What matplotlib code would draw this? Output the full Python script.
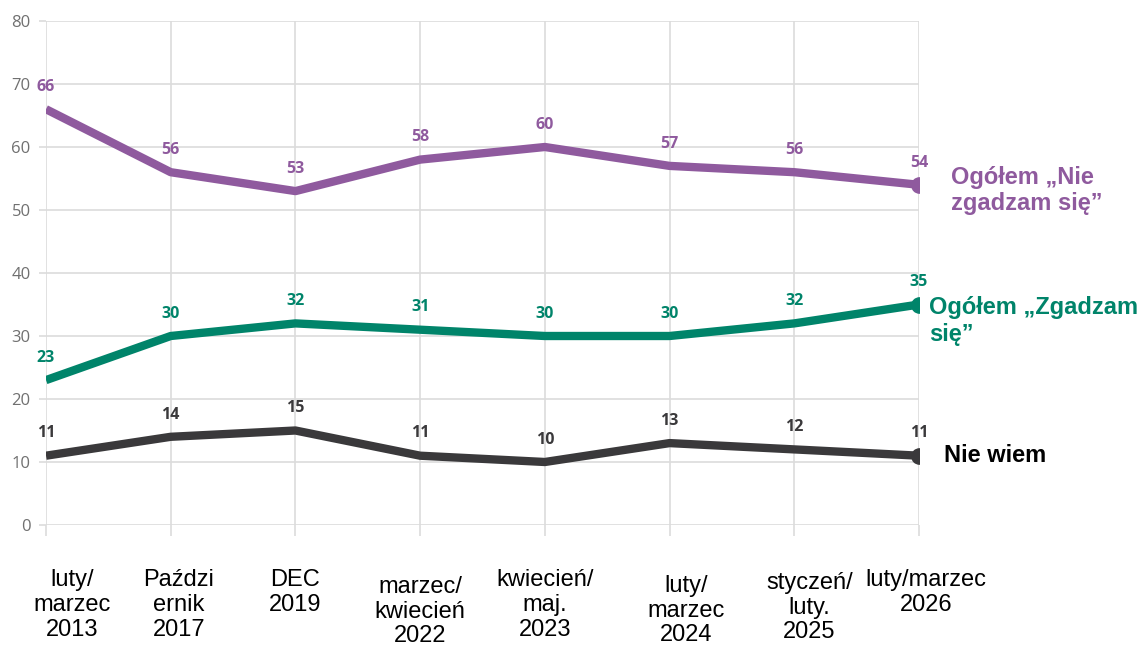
import matplotlib
matplotlib.use("Agg")
import matplotlib.pyplot as plt

# data
periods = ["luty/\nmarzec\n2013", "Paździ\nernik\n2017", "DEC\n2019",
           "marzec/\nkwiecień\n2022", "kwiecień/\nmaj.\n2023", "luty/\nmarzec\n2024",
           "styczeń/\nluty.\n2025", "luty/marzec\n2026"]
disagree = [66, 56, 53, 58, 60, 57, 56, 54]
agree = [23, 30, 32, 31, 30, 30, 32, 35]
dont_know = [11, 14, 15, 11, 10, 13, 12, 11]

# small nudges of the category labels (points), as placed in the original slide
label_dx = [19, 6, 0, 0, 0, 12, 11, 5]
label_dy = [0, 0, 0, -5, 0, -4, -2, 0]

series = [
    (disagree, "#8f5a9e", "Ogółem „Nie\nzgadzam się”", 23, -4),
    (agree, "#00846a", "Ogółem „Zgadzam\nsię”", 7, -12),
    (dont_know, "#3a393b", "Nie wiem", 18, 0),
]

fig = plt.figure(figsize=(11.43, 6.5), dpi=100)
ax = fig.add_axes([46 / 1143, 125 / 650, 873 / 1143, 504 / 650])

x = list(range(len(periods)))
for values, color, name, dx, dy in series:
    ax.plot(x, values, color=color, lw=6, solid_joinstyle="round",
            solid_capstyle="butt", zorder=3)
    ax.plot(x[-1], values[-1], "o", color=color, ms=11, zorder=4)
    for xi, v in zip(x, values):
        ax.annotate(str(v), (xi, v), xytext=(0, 16), textcoords="offset points",
                    ha="center", va="center", fontsize=11.5, fontweight="bold",
                    color=color, family="Open Sans", zorder=5)
    label_color = "#000000" if name == "Nie wiem" else color
    ax.annotate(name, (x[-1], values[-1]), xytext=(dx, dy), textcoords="offset points",
                ha="left", va="center", fontsize=17, fontweight="bold",
                color=label_color, family="Liberation Sans", linespacing=1.2,
                annotation_clip=False)

ax.set_xlim(0, len(periods) - 1)
ax.set_ylim(0, 80)
ax.set_yticks(range(0, 81, 10))
ax.set_xticks(x)
ax.set_xticklabels([])
for xi, lab, sx, sy in zip(x, periods, label_dx, label_dy):
    ax.annotate(lab, (xi, 0), xytext=(sx, -32 + sy), textcoords="offset points",
                ha="center", va="top", fontsize=17, family="Liberation Sans",
                linespacing=1.15, multialignment="center", annotation_clip=False)

ax.grid(True, color="#dcdcdc", lw=1.2, zorder=0)
ax.tick_params(axis="y", length=5, color="#dcdcdc", width=1.2, pad=6,
               labelsize=12, labelcolor="#707070")
ax.tick_params(axis="x", length=8, color="#dcdcdc", width=1.2)
for lbl in ax.get_yticklabels():
    lbl.set_family("Open Sans")
for sp in ax.spines.values():
    sp.set_visible(False)

fig.savefig("out.png", dpi=100)
